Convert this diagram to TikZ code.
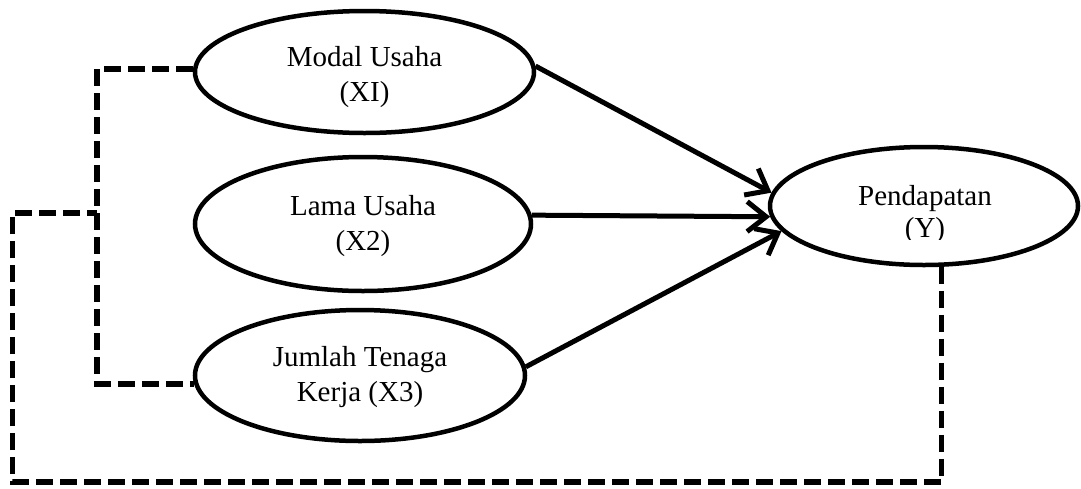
\documentclass[tikz,border=0pt]{standalone}
\usepackage{fontspec}
\setmainfont{Liberation Serif}
\usetikzlibrary{arrows.meta,shapes.geometric}
\begin{document}
\begin{tikzpicture}[x=1pt,y=-1pt,
  var/.style={ellipse,draw,line width=4.5pt,inner sep=0pt,align=center,font=\fontsize{29}{35}\selectfont},
  lbl/.style={align=center,inner sep=0pt,font=\fontsize{29}{32}\selectfont},
  arr/.style={line width=5pt,-{Straight Barb[length=19pt,width=30pt]}},
  dsh/.style={line width=5.5pt,dash pattern=on 17pt off 7pt}]
\useasboundingbox (0,0) rectangle (1081,488);
\node[var,minimum width=339pt,minimum height=122pt] (M) at (364.5,72) {\rule{0pt}{30pt}Modal Usaha\\(XI)};
\node[var,minimum width=336pt,minimum height=134pt] (L) at (363,224) {\rule{0pt}{24pt}Lama Usaha\\(X2)};
\node[var,minimum width=330pt,minimum height=131pt] (J) at (360,375.5) {\rule{0pt}{24pt}Jumlah Tenaga\\Kerja (X3)};
\node[var,minimum width=308pt,minimum height=118pt] (Y) at (924,206) {};
\begin{scope}
  \clip (850,170) rectangle (1000,239);
  \node[lbl] (Yt) at (925,215) {Pendapatan\\(Y)};
\end{scope}
% arrows
\draw[arr] (M.2) -- (Y.175);
\draw[arr] (L.3) -- (Y.184);
\draw[arr] (J.3) -- (Y.190);
% dashed connectors
\coordinate (xin) at (97,0);
\coordinate (xout) at (12.5,0);
\coordinate (ybot) at (0,482);
\coordinate (jn) at (97,213);
\draw[dsh] (M.179) -| (J.183 -| xin) -- (J.183);
\draw[dsh] (Y.-74) |- (ybot -| xout) |- (jn);
\end{tikzpicture}
\end{document}
